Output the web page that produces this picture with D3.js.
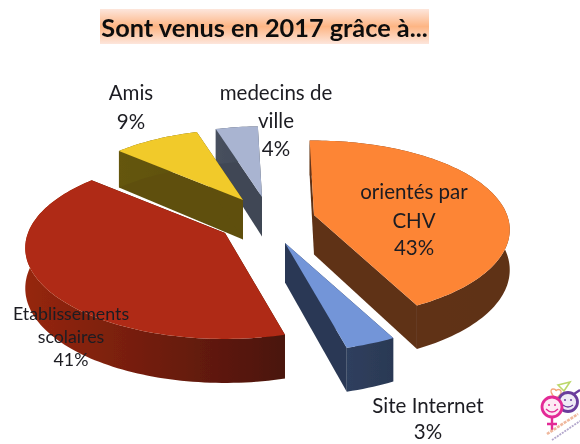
<!DOCTYPE html>
<html><head><meta charset="utf-8">
<script src="https://cdnjs.cloudflare.com/ajax/libs/d3/7.8.5/d3.min.js"></script>
<style>html,body{margin:0;padding:0;background:#fff}svg{display:block}</style>
</head><body><svg id="c" width="580" height="444"></svg>
<script>
const titleText = "Sont venus en 2017 grâce à...";
const categories = ["orientés par CHV","Site Internet","Etablissements scolaires","Amis","medecins de ville"];
const values = [42.9,3.4,40.6,8.8,4.3];
const topColors = ["#fd8534","#7395d8","#af2a12","#f1ca2a","#a9b4d1"];
const wallLight = ["#64351a","#2f3f5e","#96260f","#655610","#47505e"];
const wallDark  = ["#5e3116","#2b3954","#4a1409","#5e500e","#3f4754"];
const sliceDX = [44,15,-45,-27,-8];
const sliceDY = [-10,18,8,-25,-28];
const sliceScale = [0.98,1.03,1,0.93,0.93];
const labelLines = [["orientés par","CHV","43%"],["Site Internet","3%"],["Etablissements","scolaires","41%"],["Amis","9%"],["medecins de","ville","4%"]];
const labelX = [414,428,71,131,276];
const labelY = [[199,228,255],[413,439],[320,343,366],[100,129],[100,128,156]];
const labelSize = [20.5,20.5,17.8,20.5,20.5];
const drawOrder = [2,4,3,0,1];

const W=580,H=444,cx=270,cy=225,R=197,kY=0.449,persp=0.165;
const svg=d3.select("#c");
const defs=svg.append("defs");
const soft=defs.append("filter").attr("id","soft").attr("x","-5%").attr("y","-5%").attr("width","110%").attr("height","110%");
soft.append("feGaussianBlur").attr("stdDeviation",0.45);
const softT=defs.append("filter").attr("id","softT").attr("x","-5%").attr("y","-10%").attr("width","110%").attr("height","120%");
softT.append("feGaussianBlur").attr("stdDeviation",0.3);

const pie=d3.pie().sort(null).value(d=>d).startAngle(-1.5*Math.PI/180).endAngle((360-1.5)*Math.PI/180);
const arcs=pie(values);
const rad=d3.scaleLinear().domain([0,1]).range([0,R]);
const depth=d3.scaleLinear().domain([-1,1]).range([35,44]);
const line=d3.line();

function project(a,r){ // a: clockwise from the back of the pie, r in 0..1
  const x=r*Math.sin(a), y=-r*Math.cos(a), s=1/(1-persp*y);
  return {X:rad(x)*s, Y:rad(y)*kY*s, d:depth(y)};
}
const g=svg.append("g").attr("filter","url(#soft)");

drawOrder.forEach(i=>{
  const arc=arcs[i];
  const ox=cx+sliceDX[i], oy=cy+sliceDY[i], sc=sliceScale[i];
  const n=Math.max(6,Math.ceil((arc.endAngle-arc.startAngle)*40));
  const angs=d3.range(n+1).map(j=>arc.startAngle+(arc.endAngle-arc.startAngle)*j/n);
  const rim=angs.map(a=>project(a,1));
  const ctr=project(0,0);
  const T=p=>[ox+p.X*sc,oy+p.Y*sc], B=p=>[ox+p.X*sc,oy+p.Y*sc+p.d];
  const gid="w"+i;
  const lg=defs.append("linearGradient").attr("id",gid).attr("x1",0).attr("x2",1).attr("y1",0).attr("y2",0);
  lg.append("stop").attr("offset",0).attr("stop-color",wallLight[i]);
  lg.append("stop").attr("offset",1).attr("stop-color",wallDark[i]);
  const s=g.append("g").attr("class","slice");
  [rim[0],rim[n]].forEach(p=>{
    s.append("path").attr("fill",wallDark[i]).attr("d",line([T(ctr),T(p),B(p),B(ctr)])+"Z");
  });
  s.append("path").attr("fill",`url(#${gid})`).attr("d",line(rim.map(T).concat(rim.map(B).reverse()))+"Z");
  s.append("path").attr("fill",topColors[i]).attr("d",line([T(ctr)].concat(rim.map(T)))+"Z");
});

// title
const tg=defs.append("linearGradient").attr("id","tbg").attr("x1",0).attr("x2",0).attr("y1",0).attr("y2",1);
tg.append("stop").attr("offset",0).attr("stop-color","#fde6dc");
tg.append("stop").attr("offset",0.5).attr("stop-color","#fdb584");
tg.append("stop").attr("offset",1).attr("stop-color","#fde6dc");
svg.append("rect").attr("x",100).attr("y",9).attr("width",329).attr("height",35).attr("fill","url(#tbg)");
svg.append("text").attr("x",264.5).attr("y",37).attr("text-anchor","middle")
  .attr("font-family","Lato, sans-serif").attr("font-weight",700).attr("font-size",25.3).attr("fill","#111")
  .attr("filter","url(#softT)").text(titleText);

// labels
const lab=svg.append("g").attr("font-family","Lato, 'Open Sans', sans-serif").attr("text-anchor","middle").attr("fill","#1c1c22").attr("filter","url(#softT)");
labelLines.forEach((ls,i)=>ls.forEach((t,j)=>{
  lab.append("text").attr("x",labelX[i]).attr("y",labelY[i][j]).attr("font-size",labelSize[i]).text(t);
}));

// logo
const logo=svg.append("g").attr("transform","translate(530,380)").attr("fill","none").attr("filter","url(#softT)");
logo.append("path").attr("d","M28 5 L40 2 L34 11 Z").attr("stroke","#bcd86a").attr("stroke-width",1.6);
logo.append("path").attr("d","M26 18 C20 14 20 9 23 9 C25 9 26 10 26 11 C27 9 30 9 31 11 C32 14 29 16 26 18Z").attr("stroke","#f2a77c").attr("stroke-width",1.3);
logo.append("circle").attr("cx",38).attr("cy",22).attr("r",9.5).attr("stroke","#6a3d9c").attr("stroke-width",2.8).attr("fill","#efeaf5");
logo.append("path").attr("d","M44 14 L50 10").attr("stroke","#6a3d9c").attr("stroke-width",2.2);
logo.append("circle").attr("cx",22).attr("cy",27).attr("r",10).attr("stroke","#e32a96").attr("stroke-width",2.8).attr("fill","#fdeaf4");
logo.append("path").attr("d","M22 38 V50 M17 44 H27").attr("stroke","#e32a96").attr("stroke-width",2.4);
[[19,25,"#e32a96"],[25,25,"#e32a96"],[35,20,"#6a3d9c"],[41,20,"#6a3d9c"]].forEach(d=>logo.append("circle").attr("cx",d[0]).attr("cy",d[1]).attr("r",1).attr("fill",d[2]));
logo.append("path").attr("d","M16 29 Q22 35 28 29").attr("stroke","#e32a96").attr("stroke-width",1.3);
logo.append("path").attr("d","M33 25 Q38 29 43 25").attr("stroke","#6a3d9c").attr("stroke-width",1.3);
logo.append("path").attr("d","M17 54 L48 34").attr("stroke","#e9a07c").attr("stroke-width",2.6).attr("stroke-dasharray","3 1").attr("opacity",.75);
logo.append("path").attr("d","M22 60 L50 41").attr("stroke","#8a78b0").attr("stroke-width",1.8).attr("stroke-dasharray","2 1").attr("opacity",.65);
</script></body></html>
